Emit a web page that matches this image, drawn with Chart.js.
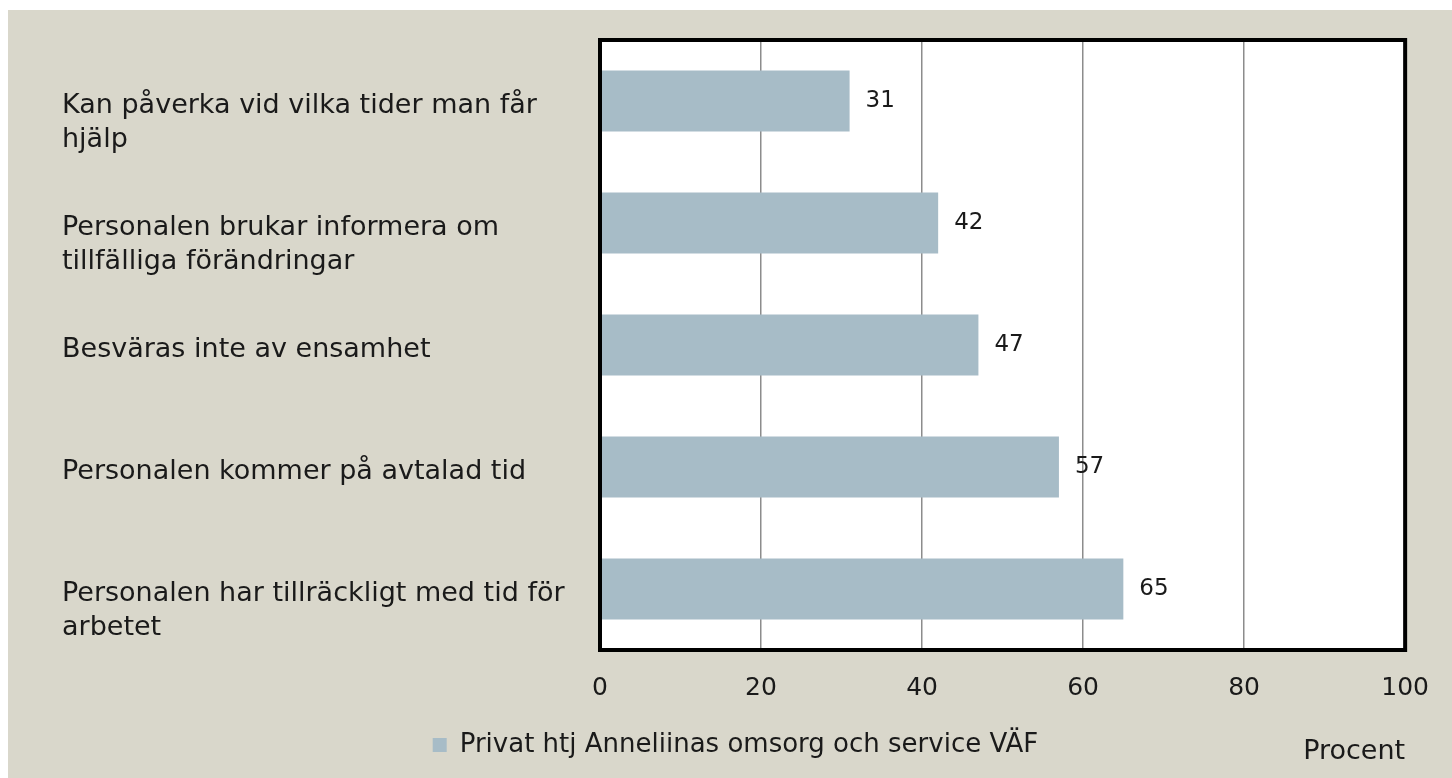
<!DOCTYPE html>
<html>
<head>
<meta charset="utf-8">
<script src="https://cdn.jsdelivr.net/npm/chart.js@4.4.1/dist/chart.umd.min.js"></script>
<style>
  body { margin: 0; background: #ffffff; }
  #wrap { position: absolute; left: 8px; top: 10px; width: 1444px; height: 768px; background: #d9d7cb; }
</style>
</head>
<body>
<div id="wrap"><canvas id="chart" width="1444" height="768"></canvas></div>
<script>
const categories = [
  ['Kan påverka vid vilka tider man får', 'hjälp'],
  ['Personalen brukar informera om', 'tillfälliga förändringar'],
  ['Besväras inte av ensamhet'],
  ['Personalen kommer på avtalad tid'],
  ['Personalen har tillräckligt med tid för', 'arbetet']
];
const values = [31, 42, 47, 57, 65];
const seriesName = 'Privat htj Anneliinas omsorg och service VÄF';
const xTicks = [0, 20, 40, 60, 80, 100];
const axisTitle = 'Procent';

const FONT = 'DejaVu Sans';
const TEXT = '#1a1a1a';

// white plot area + thick black frame
const frame = {
  id: 'frame',
  beforeDraw(chart) {
    const a = chart.chartArea, ctx = chart.ctx;
    ctx.save();
    ctx.fillStyle = '#ffffff';
    ctx.fillRect(a.left, a.top, a.right - a.left, a.bottom - a.top);
    ctx.restore();
  },
  afterDatasetsDraw(chart) {
    const a = chart.chartArea, ctx = chart.ctx;
    ctx.save();
    ctx.strokeStyle = '#000000';
    ctx.lineWidth = 4;
    ctx.strokeRect(a.left, a.top, a.right - a.left, a.bottom - a.top);
    ctx.restore();
  }
};

// value next to each bar
const valueLabels = {
  id: 'valueLabels',
  afterDatasetsDraw(chart) {
    const ctx = chart.ctx;
    const meta = chart.getDatasetMeta(0);
    ctx.save();
    ctx.font = '23px "' + FONT + '"';
    ctx.fillStyle = TEXT;
    ctx.textAlign = 'left';
    ctx.textBaseline = 'middle';
    meta.data.forEach((bar, i) => {
      ctx.fillText(String(values[i]), bar.x + 16, bar.y);
    });
    ctx.restore();
  }
};

new Chart(document.getElementById('chart'), {
  type: 'bar',
  data: {
    labels: categories,
    datasets: [{
      label: seriesName,
      data: values,
      backgroundColor: '#a7bcc7',
      borderWidth: 0,
      categoryPercentage: 1,
      barPercentage: 0.5
    }]
  },
  options: {
    indexAxis: 'y',
    responsive: false,
    animation: false,
    layout: { padding: { left: 54, right: 43, top: 30, bottom: 10 } },
    scales: {
      x: {
        min: 0,
        max: 100,
        afterBuildTicks(scale) {
          scale.ticks = xTicks.map(v => ({ value: v }));
        },
        afterFit(scale) { scale.height = 72; },
        grid: { color: '#8c8c8c', lineWidth: 1.5, drawTicks: false },
        border: { display: false },
        ticks: { color: TEXT, font: { family: FONT, size: 25 }, padding: 23, maxRotation: 0 },
        title: {
          display: true,
          text: axisTitle,
          align: 'end',
          color: TEXT,
          font: { family: FONT, size: 27 },
          padding: { top: 0, bottom: -46 }
        }
      },
      y: {
        afterFit(scale) {
          scale.width = 538;
          scale.paddingTop = 0;
          scale.paddingBottom = 0;
        },
        grid: { display: false, drawTicks: false },
        border: { display: false },
        ticks: {
          color: TEXT,
          crossAlign: 'far',
          labelOffset: 5,
          font: { family: FONT, size: 27, lineHeight: 1.26 },
          callback(value) {
            const lines = this.getLabelForValue(value);
            return lines.length > 1 ? [''].concat(lines) : lines;
          }
        }
      }
    },
    plugins: {
      legend: {
        position: 'bottom',
        labels: {
          color: TEXT,
          boxWidth: 14,
          boxHeight: 14,
          font: { family: FONT, size: 26 }
        }
      },
      tooltip: { enabled: false }
    }
  },
  plugins: [frame, valueLabels]
});
</script>
</body>
</html>
